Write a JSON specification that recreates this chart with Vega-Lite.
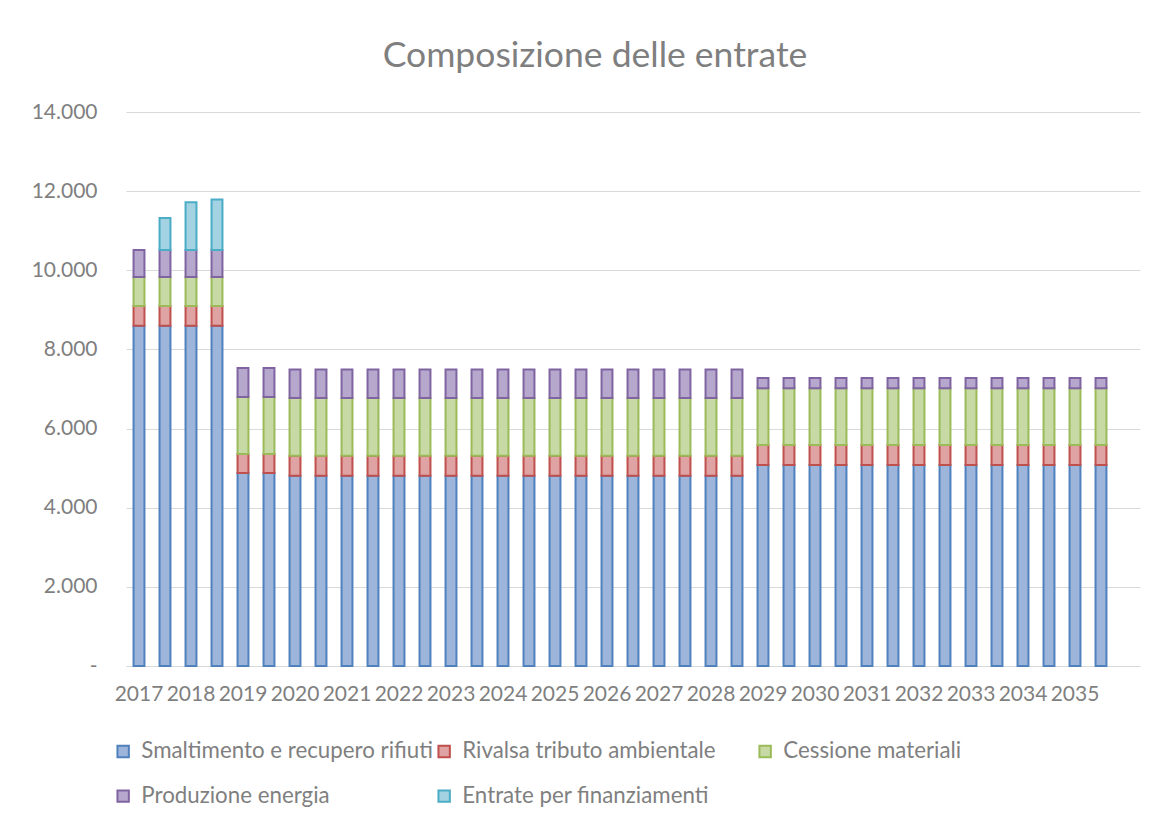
{
  "$schema": "https://vega.github.io/schema/vega-lite/v6.json",
  "width": 1014,
  "height": 554,
  "autosize": {"type": "none"},
  "padding": {"left": 126, "top": 112, "right": 29, "bottom": 156},
  "background": "white",
  "title": {"text": "Composizione delle entrate", "font": "Lato", "fontSize": 35.5, "fontWeight": "normal", "color": "#7F7F7F", "anchor": "middle", "dx": -38, "offset": 27},
  "datasets": {
    "entrate": [
      {"periodo": "2017-1", "Smaltimento e recupero rifiuti": 8600, "Rivalsa tributo ambientale": 500, "Cessione materiali": 730, "Produzione energia": 680, "Entrate per finanziamenti": 0},
      {"periodo": "2017-2", "Smaltimento e recupero rifiuti": 8600, "Rivalsa tributo ambientale": 500, "Cessione materiali": 730, "Produzione energia": 680, "Entrate per finanziamenti": 810},
      {"periodo": "2018-1", "Smaltimento e recupero rifiuti": 8600, "Rivalsa tributo ambientale": 500, "Cessione materiali": 730, "Produzione energia": 680, "Entrate per finanziamenti": 1210},
      {"periodo": "2018-2", "Smaltimento e recupero rifiuti": 8600, "Rivalsa tributo ambientale": 500, "Cessione materiali": 730, "Produzione energia": 680, "Entrate per finanziamenti": 1280},
      {"periodo": "2019-1", "Smaltimento e recupero rifiuti": 4880, "Rivalsa tributo ambientale": 480, "Cessione materiali": 1435, "Produzione energia": 735, "Entrate per finanziamenti": 0},
      {"periodo": "2019-2", "Smaltimento e recupero rifiuti": 4880, "Rivalsa tributo ambientale": 480, "Cessione materiali": 1435, "Produzione energia": 735, "Entrate per finanziamenti": 0},
      {"periodo": "2020-1", "Smaltimento e recupero rifiuti": 4810, "Rivalsa tributo ambientale": 505, "Cessione materiali": 1455, "Produzione energia": 725, "Entrate per finanziamenti": 0},
      {"periodo": "2020-2", "Smaltimento e recupero rifiuti": 4810, "Rivalsa tributo ambientale": 505, "Cessione materiali": 1455, "Produzione energia": 725, "Entrate per finanziamenti": 0},
      {"periodo": "2021-1", "Smaltimento e recupero rifiuti": 4810, "Rivalsa tributo ambientale": 505, "Cessione materiali": 1455, "Produzione energia": 725, "Entrate per finanziamenti": 0},
      {"periodo": "2021-2", "Smaltimento e recupero rifiuti": 4810, "Rivalsa tributo ambientale": 505, "Cessione materiali": 1455, "Produzione energia": 725, "Entrate per finanziamenti": 0},
      {"periodo": "2022-1", "Smaltimento e recupero rifiuti": 4810, "Rivalsa tributo ambientale": 505, "Cessione materiali": 1455, "Produzione energia": 725, "Entrate per finanziamenti": 0},
      {"periodo": "2022-2", "Smaltimento e recupero rifiuti": 4810, "Rivalsa tributo ambientale": 505, "Cessione materiali": 1455, "Produzione energia": 725, "Entrate per finanziamenti": 0},
      {"periodo": "2023-1", "Smaltimento e recupero rifiuti": 4810, "Rivalsa tributo ambientale": 505, "Cessione materiali": 1455, "Produzione energia": 725, "Entrate per finanziamenti": 0},
      {"periodo": "2023-2", "Smaltimento e recupero rifiuti": 4810, "Rivalsa tributo ambientale": 505, "Cessione materiali": 1455, "Produzione energia": 725, "Entrate per finanziamenti": 0},
      {"periodo": "2024-1", "Smaltimento e recupero rifiuti": 4810, "Rivalsa tributo ambientale": 505, "Cessione materiali": 1455, "Produzione energia": 725, "Entrate per finanziamenti": 0},
      {"periodo": "2024-2", "Smaltimento e recupero rifiuti": 4810, "Rivalsa tributo ambientale": 505, "Cessione materiali": 1455, "Produzione energia": 725, "Entrate per finanziamenti": 0},
      {"periodo": "2025-1", "Smaltimento e recupero rifiuti": 4810, "Rivalsa tributo ambientale": 505, "Cessione materiali": 1455, "Produzione energia": 725, "Entrate per finanziamenti": 0},
      {"periodo": "2025-2", "Smaltimento e recupero rifiuti": 4810, "Rivalsa tributo ambientale": 505, "Cessione materiali": 1455, "Produzione energia": 725, "Entrate per finanziamenti": 0},
      {"periodo": "2026-1", "Smaltimento e recupero rifiuti": 4810, "Rivalsa tributo ambientale": 505, "Cessione materiali": 1455, "Produzione energia": 725, "Entrate per finanziamenti": 0},
      {"periodo": "2026-2", "Smaltimento e recupero rifiuti": 4810, "Rivalsa tributo ambientale": 505, "Cessione materiali": 1455, "Produzione energia": 725, "Entrate per finanziamenti": 0},
      {"periodo": "2027-1", "Smaltimento e recupero rifiuti": 4810, "Rivalsa tributo ambientale": 505, "Cessione materiali": 1455, "Produzione energia": 725, "Entrate per finanziamenti": 0},
      {"periodo": "2027-2", "Smaltimento e recupero rifiuti": 4810, "Rivalsa tributo ambientale": 505, "Cessione materiali": 1455, "Produzione energia": 725, "Entrate per finanziamenti": 0},
      {"periodo": "2028-1", "Smaltimento e recupero rifiuti": 4810, "Rivalsa tributo ambientale": 505, "Cessione materiali": 1455, "Produzione energia": 725, "Entrate per finanziamenti": 0},
      {"periodo": "2028-2", "Smaltimento e recupero rifiuti": 4810, "Rivalsa tributo ambientale": 505, "Cessione materiali": 1455, "Produzione energia": 725, "Entrate per finanziamenti": 0},
      {"periodo": "2029-1", "Smaltimento e recupero rifiuti": 5080, "Rivalsa tributo ambientale": 505, "Cessione materiali": 1435, "Produzione energia": 255, "Entrate per finanziamenti": 0},
      {"periodo": "2029-2", "Smaltimento e recupero rifiuti": 5080, "Rivalsa tributo ambientale": 505, "Cessione materiali": 1435, "Produzione energia": 255, "Entrate per finanziamenti": 0},
      {"periodo": "2030-1", "Smaltimento e recupero rifiuti": 5080, "Rivalsa tributo ambientale": 505, "Cessione materiali": 1435, "Produzione energia": 255, "Entrate per finanziamenti": 0},
      {"periodo": "2030-2", "Smaltimento e recupero rifiuti": 5080, "Rivalsa tributo ambientale": 505, "Cessione materiali": 1435, "Produzione energia": 255, "Entrate per finanziamenti": 0},
      {"periodo": "2031-1", "Smaltimento e recupero rifiuti": 5080, "Rivalsa tributo ambientale": 505, "Cessione materiali": 1435, "Produzione energia": 255, "Entrate per finanziamenti": 0},
      {"periodo": "2031-2", "Smaltimento e recupero rifiuti": 5080, "Rivalsa tributo ambientale": 505, "Cessione materiali": 1435, "Produzione energia": 255, "Entrate per finanziamenti": 0},
      {"periodo": "2032-1", "Smaltimento e recupero rifiuti": 5080, "Rivalsa tributo ambientale": 505, "Cessione materiali": 1435, "Produzione energia": 255, "Entrate per finanziamenti": 0},
      {"periodo": "2032-2", "Smaltimento e recupero rifiuti": 5080, "Rivalsa tributo ambientale": 505, "Cessione materiali": 1435, "Produzione energia": 255, "Entrate per finanziamenti": 0},
      {"periodo": "2033-1", "Smaltimento e recupero rifiuti": 5080, "Rivalsa tributo ambientale": 505, "Cessione materiali": 1435, "Produzione energia": 255, "Entrate per finanziamenti": 0},
      {"periodo": "2033-2", "Smaltimento e recupero rifiuti": 5080, "Rivalsa tributo ambientale": 505, "Cessione materiali": 1435, "Produzione energia": 255, "Entrate per finanziamenti": 0},
      {"periodo": "2034-1", "Smaltimento e recupero rifiuti": 5080, "Rivalsa tributo ambientale": 505, "Cessione materiali": 1435, "Produzione energia": 255, "Entrate per finanziamenti": 0},
      {"periodo": "2034-2", "Smaltimento e recupero rifiuti": 5080, "Rivalsa tributo ambientale": 505, "Cessione materiali": 1435, "Produzione energia": 255, "Entrate per finanziamenti": 0},
      {"periodo": "2035-1", "Smaltimento e recupero rifiuti": 5080, "Rivalsa tributo ambientale": 505, "Cessione materiali": 1435, "Produzione energia": 255, "Entrate per finanziamenti": 0},
      {"periodo": "2035-2", "Smaltimento e recupero rifiuti": 5080, "Rivalsa tributo ambientale": 505, "Cessione materiali": 1435, "Produzione energia": 255, "Entrate per finanziamenti": 0}
    ]
  },
  "data": {"name": "entrate"},
  "transform": [
    {"fold": ["Smaltimento e recupero rifiuti", "Rivalsa tributo ambientale", "Cessione materiali", "Produzione energia", "Entrate per finanziamenti"], "as": ["voce", "valore"]},
    {"window": [{"op": "row_number", "as": "ordine"}], "groupby": ["periodo"]},
    {"filter": "datum.valore > 0"}
  ],
  "mark": {"type": "bar", "strokeWidth": 2, "fillOpacity": 1},
  "encoding": {
    "x": {
      "field": "periodo", "type": "ordinal", "title": null,
      "scale": {
        "domain": ["2017-1","2017-2","2018-1","2018-2","2019-1","2019-2","2020-1","2020-2","2021-1","2021-2","2022-1","2022-2","2023-1","2023-2","2024-1","2024-2","2025-1","2025-2","2026-1","2026-2","2027-1","2027-2","2028-1","2028-2","2029-1","2029-2","2030-1","2030-2","2031-1","2031-2","2032-1","2032-2","2033-1","2033-2","2034-1","2034-2","2035-1","2035-2","vuoto"],
        "paddingInner": 0.58, "paddingOuter": 0.29
      },
      "axis": {
        "labelExpr": "indexof(datum.label, '-1') > 0 ? slice(datum.label, 0, 4) : ''",
        "labelAngle": 0, "labelFont": "Lato", "labelFontSize": 21, "labelColor": "#7F7F7F",
        "labelPadding": 17, "ticks": false, "domain": true, "domainColor": "#D9D9D9", "domainWidth": 1,
        "grid": false, "labelOverlap": false
      }
    },
    "y": {
      "field": "valore", "type": "quantitative", "stack": "zero", "title": null,
      "scale": {"domain": [0, 14000], "nice": false},
      "axis": {
        "values": [0, 2000, 4000, 6000, 8000, 10000, 12000, 14000],
        "labelExpr": "datum.value == 0 ? '-\u00a0\u00a0\u00a0' : replace(format(datum.value, ','), ',', '.')",
        "labelFont": "Lato", "labelFontSize": 21, "labelColor": "#7F7F7F", "labelPadding": 29,
        "ticks": false, "domain": false, "grid": true, "gridColor": "#D9D9D9", "gridWidth": 1
      }
    },
    "order": {"field": "ordine", "type": "quantitative", "sort": "ascending"},
    "fill": {
      "field": "voce", "type": "nominal",
      "sort": ["Smaltimento e recupero rifiuti", "Rivalsa tributo ambientale", "Cessione materiali", "Produzione energia", "Entrate per finanziamenti"],
      "scale": {
        "domain": ["Smaltimento e recupero rifiuti", "Rivalsa tributo ambientale", "Cessione materiali", "Produzione energia", "Entrate per finanziamenti"],
        "range": ["#9DB5DB", "#DEA3A2", "#C7DAA6", "#B5A8CC", "#A3D2E2"]
      },
      "legend": {
        "title": null, "orient": "none", "legendX": -14, "legendY": 628, "columns": 3, "gridAlign": "all",
        "direction": "horizontal", "padding": 0,
        "columnPadding": 0, "rowPadding": 22,
        "symbolType": "square", "symbolSize": 130, "symbolStrokeWidth": 2,
        "labelFont": "Lato", "labelFontSize": 22.3, "labelColor": "#7F7F7F", "labelLimit": 0, "labelOffset": 7
      }
    },
    "stroke": {
      "field": "voce", "type": "nominal",
      "sort": ["Smaltimento e recupero rifiuti", "Rivalsa tributo ambientale", "Cessione materiali", "Produzione energia", "Entrate per finanziamenti"],
      "scale": {
        "domain": ["Smaltimento e recupero rifiuti", "Rivalsa tributo ambientale", "Cessione materiali", "Produzione energia", "Entrate per finanziamenti"],
        "range": ["#4F81BD", "#C0504D", "#9BBB59", "#8064A2", "#4BACC6"]
      },
      "legend": {
        "title": null, "orient": "none", "legendX": -14, "legendY": 628, "columns": 3, "gridAlign": "all",
        "direction": "horizontal", "padding": 0,
        "columnPadding": 0, "rowPadding": 22,
        "symbolType": "square", "symbolSize": 130, "symbolStrokeWidth": 2,
        "labelFont": "Lato", "labelFontSize": 22.3, "labelColor": "#7F7F7F", "labelLimit": 0, "labelOffset": 7
      }
    }
  },
  "config": {"view": {"stroke": null}}
}
